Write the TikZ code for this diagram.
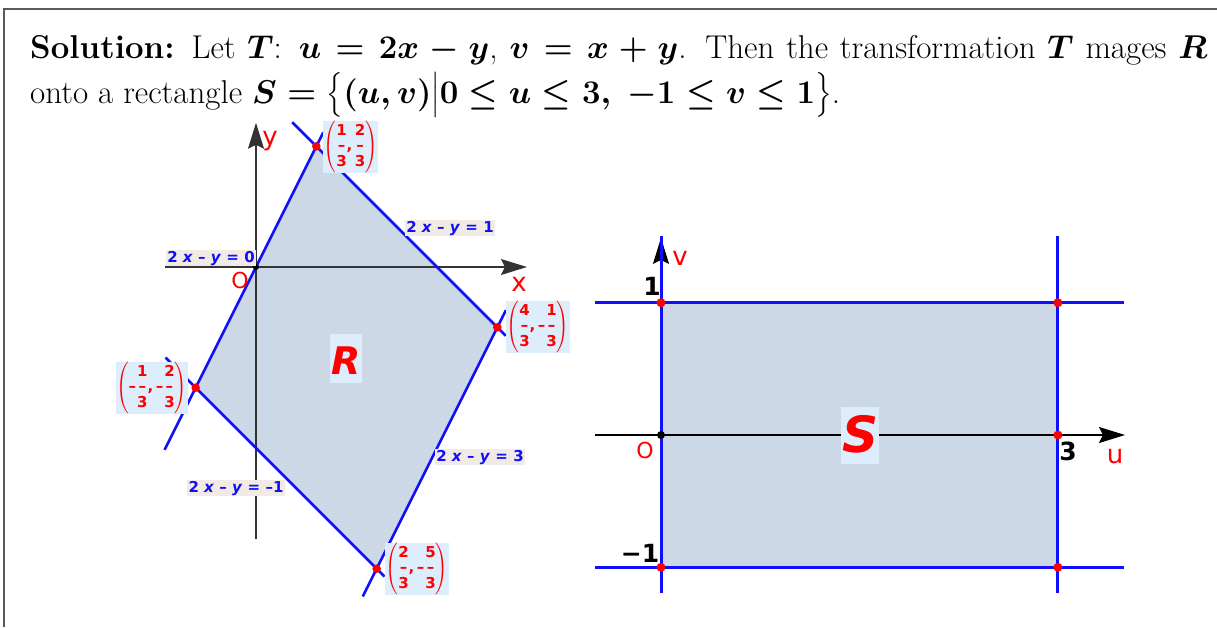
\RequirePackage{fix-cm}
\documentclass[tikz,border=0pt]{standalone}
\usepackage{fontspec}
\usepackage{amsmath}
\newfontfamily\ggb{DejaVu Sans}
\usetikzlibrary{arrows.meta}
\definecolor{gblue}{RGB}{15,15,250}
\definecolor{gred}{RGB}{255,0,0}
\definecolor{regfill}{RGB}{204,216,230}
\definecolor{lbg}{RGB}{242,234,228}
\definecolor{fbg}{RGB}{222,237,252}
\definecolor{framec}{RGB}{90,90,90}
\newcommand{\fr}[2]{\vcenter{\hbox{\begin{tabular}{@{}c@{}}#1\\[-2.5pt]–\\[-2.5pt]#2\end{tabular}}}}
\newcommand{\cm}{\hbox{,}\,}
\newcommand{\mn}{\hbox{–\kern1pt}}
\tikzset{
  ttl/.style={font=\fontsize{33}{45}\selectfont, inner sep=0pt, anchor=base west},
  bl/.style={draw=gblue, line width=2.6pt},
  blr/.style={draw=gblue, line width=3pt},
  axisl/.style={draw=black!80, line width=1.4pt, -{Stealth[length=26pt,width=16pt,inset=4pt]}},
  lab/.style={font=\ggb\bfseries\fontsize{15}{18}\selectfont, text=gblue, fill=lbg, inner xsep=1.5pt, inner ysep=0.5pt, text height=11.5pt, text depth=3.5pt},
  frlab/.style={font=\ggb\bfseries\fontsize{15}{18}\selectfont, text=gred, fill=fbg, inner sep=0.5pt},
  axlab/.style={font=\ggb\fontsize{26}{30}\selectfont, text=gred, anchor=base, inner sep=0pt},
  olab/.style={font=\ggb\fontsize{22}{26}\selectfont, text=gred, anchor=base, inner sep=0pt},
  numlab/.style={font=\ggb\bfseries\fontsize{25}{30}\selectfont, text=black, anchor=base, inner sep=0pt},
  rdot/.style={fill=gred, draw=none},
  kdot/.style={fill=black, draw=none},
}
\newcommand{\lineone}{\textbf{Solution:} Let $T$: $u = 2x - y$, $v = x + y$. Then the transformation $T$ mages $R$}
\newcommand{\linetwo}{onto a rectangle $S = \big\{(u,v)\big|0 \le u \le 3,\ -1 \le v \le 1\big\}$.}
\begin{document}
\begin{tikzpicture}[x=1pt,y=-1pt]
\useasboundingbox (0,0) rectangle (1217,627);
% frame
\draw[framec, line width=1.5pt] (4,627) -- (4,9) -- (1217,9);
% title
\node[ttl] (t1) at (30,58) {{\boldmath\hbox to 1177pt{\lineone}}};
\node[ttl] (t2) at (30,103) {{\boldmath\linetwo}};
% ---------- left graph
\begin{scope}[shift={(256,267)}, x=181pt, y=181pt]
  \coordinate (A) at (1/3,2/3);
  \coordinate (B) at (4/3,-1/3);
  \coordinate (C) at (2/3,-5/3);
  \coordinate (D) at (-1/3,-2/3);
  \coordinate (O1) at (0,0);
  \fill[regfill] (A) -- (B) -- (C) -- (D) -- cycle;
  \draw[axisl] (-0.503,0) -- (1.497,0);
  \draw[axisl] (0,-1.503) -- (0,0.797);
  \draw[bl] (0.2,0.8) -- (1.38,-0.38);
  \draw[bl] (-0.5,-0.5) -- (0.71,-1.71);
  \draw[bl] (-0.505,-1.01) -- (0.372,0.744);
  \draw[bl] (0.59,-1.82) -- (1.381,-0.238);
  \fill[kdot] (O1) circle[radius=3pt];
  \foreach \p in {A,B,C,D} \fill[rdot] (\p) circle[radius=4.3pt];
\end{scope}
\node[axlab] (ly) at (270,145) {y};
\node[axlab] (lx) at (519,291) {x};
\node[olab] (lo) at (240,288) {O};
\node[lab] (e1) at (450,228) {2 \textit{x} – \textit{y} = 1};
\node[lab] (e0) at (211,258) {2 \textit{x} – \textit{y} = 0};
\node[lab] (e3) at (480,457) {2 \textit{x} – \textit{y} = 3};
\node[lab] (em) at (236,488) {2 \textit{x} – \textit{y} = –1};
\node[frlab, anchor=west] (pA) at (323,147) {$\left(\fr{1}{3}\cm\fr{2}{3}\right)$};
\node[frlab, anchor=west] (pB) at (506,327) {$\left(\fr{4}{3}\cm\mn\fr{1}{3}\right)$};
\node[frlab, anchor=east] (pD) at (188,388) {$\left(\mn\fr{1}{3}\cm\mn\fr{2}{3}\right)$};
\node[frlab, anchor=west] (pC) at (385,569) {$\left(\fr{2}{3}\cm\mn\fr{5}{3}\right)$};
\node[font=\ggb\bfseries\itshape\fontsize{38}{44}\selectfont, text=gred, fill=fbg, anchor=base, inner xsep=1pt, inner ysep=0pt, text height=40pt, text depth=9pt] (R) at (346,374) {R};
% ---------- right graph
\begin{scope}[shift={(661,435)}, x=132.3pt, y=132.3pt]
  \coordinate (O2) at (0,0);
  \coordinate (P1) at (0,1);
  \coordinate (P2) at (3,1);
  \coordinate (P3) at (0,-1);
  \coordinate (P4) at (3,-1);
  \coordinate (P5) at (3,0);
  \fill[regfill] (P3) rectangle (P2);
  \draw[axisl, draw=black] (-0.5,0) -- (3.507,0);
  \draw[axisl, draw=black] (0,-1.19) -- (0,1.49);
  \draw[blr] (-0.5,1) -- (3.5,1);
  \draw[blr] (-0.5,-1) -- (3.5,-1);
  \draw[blr] (0,-1.194) -- (0,1.504);
  \draw[blr] (3,-1.194) -- (3,1.504);
  \fill[kdot] (O2) circle[radius=4pt];
  \foreach \p in {P1,P2,P3,P4,P5} \fill[rdot] (\p) circle[radius=4.5pt];
\end{scope}
\node[numlab] (n1) at (652,295) {1};
\node[numlab] (nm1) at (640,562) {−1};
\node[numlab] (n3) at (1068,460) {3};
\node[olab] (ro) at (645,458) {O};
\node[axlab] (lu) at (1115,463) {u};
\node[axlab] (lv) at (680,265) {v};
\node[font=\ggb\bfseries\itshape\fontsize{50}{60}\selectfont, text=gred, fill=fbg, anchor=base, inner xsep=1pt, inner ysep=0pt, text height=45pt, text depth=12pt] (S) at (860,452) {S};
\end{tikzpicture}
\end{document}
